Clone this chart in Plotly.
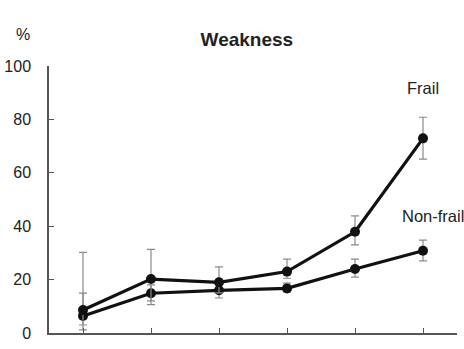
import plotly.graph_objects as go

months = [-15, -12, -9, -6, -3, 0]
tick_text = ["-15", "-12", "-9", "-6", "-3", "0"]

frail = [8.6, 20.2, 19.0, 23.0, 37.9, 72.9]
frail_hi = [30.2, 31.3, 24.8, 27.7, 43.9, 80.8]
frail_lo = [1.2, 12.0, 15.0, 20.5, 33.0, 65.1]

nonfrail = [6.4, 14.9, 16.0, 16.7, 24.0, 30.8]
nonfrail_hi = [14.9, 18.0, 18.5, 18.7, 27.7, 34.8]
nonfrail_lo = [3.0, 10.6, 13.1, 15.4, 20.9, 27.0]

err_col = "#8a8a8a"

def trace(y, hi, lo):
    return go.Scatter(
        x=months, y=y, mode="lines+markers",
        line=dict(color="#111111", width=3.2),
        marker=dict(color="#111111", size=10),
        error_y=dict(type="data", symmetric=False,
                     array=[h - v for h, v in zip(hi, y)],
                     arrayminus=[v - l for v, l in zip(y, lo)],
                     color=err_col, thickness=1.2, width=4),
        showlegend=False,
    )

fig = go.Figure()
fig.add_trace(trace(nonfrail, nonfrail_hi, nonfrail_lo))
fig.add_trace(trace(frail, frail_hi, frail_lo))

font = dict(family="Liberation Sans, Arial, sans-serif", size=16, color="#222222")
label_font = dict(family="Liberation Sans, Arial, sans-serif", size=16.5, color="#222222")

fig.update_layout(
    width=464, height=349,
    margin=dict(l=49, r=7, t=66, b=16),
    paper_bgcolor="white", plot_bgcolor="white",
    font=font,
    title=dict(text="<b>Weakness</b>", xref="paper", x=0.485, xanchor="center",
               yref="container", y=1 - 39.5 / 349, yanchor="middle",
               font=dict(family="Liberation Sans, Arial, sans-serif", size=19, color="#222222")),
    xaxis=dict(range=[-16.5, 1.5], tickvals=months, ticktext=tick_text,
               ticks="inside", ticklen=5, tickcolor="#555555", tickwidth=1.3,
               showline=True, linecolor="#555555", linewidth=1.5,
               showgrid=False, zeroline=False, automargin=False,
               ticklabelstandoff=8),
    yaxis=dict(range=[0, 100], tickvals=[0, 20, 40, 60, 80, 100],
               ticks="inside", ticklen=5, tickcolor="#555555", tickwidth=1.3,
               showline=True, linecolor="#555555", linewidth=1.5,
               showgrid=False, zeroline=False, automargin=False,
               ticklabelstandoff=13),
    annotations=[
        dict(text="%", xref="paper", yref="paper", x=-26 / 408, y=1 + 31 / 267,
             xanchor="center", yanchor="middle", showarrow=False, font=font),
        dict(text="Frail", xref="x", yref="y", x=0, y=91.8,
             xanchor="center", yanchor="middle", showarrow=False, font=label_font),
        dict(text="Non-frail", xref="x", yref="y", x=-1.0, y=43.8,
             xanchor="left", yanchor="middle", showarrow=False, font=label_font),
    ],
)

fig.write_html("out.html", config={"displayModeBar": False},
               post_script="document.body.style.margin='0';")
